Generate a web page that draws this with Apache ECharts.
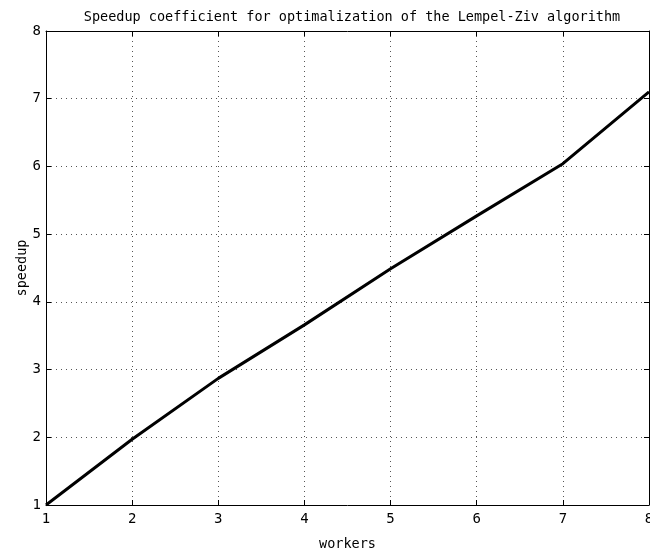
<!DOCTYPE html>
<html><head><meta charset="utf-8">
<script src="https://cdn.jsdelivr.net/npm/echarts@6/dist/echarts.min.js"></script>
<style>html,body{margin:0;padding:0;background:#fff}#c{width:650px;height:554px}</style>
</head><body><div id="c"></div>
<script>
const workers = [1, 2, 3, 4, 5, 6, 7, 8];
const speedup = [1.0, 1.97, 2.87, 3.66, 4.49, 5.27, 6.04, 7.1];
const titleText = 'Speedup coefficient for optimalization of the Lempel-Ziv algorithm';
const xName = 'workers';
const yName = 'speedup';

const font = 'DejaVu Sans Mono';
const chart = echarts.init(document.getElementById('c'));
const axisLine = {show: true, lineStyle: {color: '#000', width: 1}};
const grid = {show: true, lineStyle: {color: '#555', type: [1, 4], width: 1}};
const tick = {show: true, inside: true, length: 5, lineStyle: {color: '#000'}};
chart.setOption({
  animation: false,
  title: {text: titleText, left: 347, top: 5, textAlign: 'center',
    textStyle: {fontFamily: font, fontSize: 13.5, fontWeight: 'normal', color: '#000'}},
  grid: {left: 46, right: 1, top: 31, bottom: 49, containLabel: false, outerBoundsMode: 'none'},
  xAxis: [{
    type: 'value', min: 1, max: 8, interval: 1, position: 'bottom',
    name: xName, nameLocation: 'middle', nameGap: 32, nameMoveOverlap: false,
    nameTextStyle: {fontFamily: font, fontSize: 13.5, color: '#000'},
    axisLine, axisTick: tick, splitLine: grid,
    axisLabel: {fontFamily: font, fontSize: 14, color: '#000', margin: 7, showMaxLabel: true}
  }, {
    type: 'value', min: 1, max: 8, interval: 1, position: 'top',
    axisLine, axisTick: tick, splitLine: {show: false}, axisLabel: {show: false}
  }],
  yAxis: [{
    type: 'value', min: 1, max: 8, interval: 1, position: 'left',
    name: yName, nameLocation: 'middle', nameGap: 17, nameRotate: 90, nameMoveOverlap: false,
    nameTextStyle: {fontFamily: font, fontSize: 13.5, color: '#000'},
    axisLine, axisTick: tick, splitLine: grid,
    axisLabel: {fontFamily: font, fontSize: 14, color: '#000', margin: 5}
  }, {
    type: 'value', min: 1, max: 8, interval: 1, position: 'right',
    axisLine, axisTick: tick, splitLine: {show: false}, axisLabel: {show: false}
  }],
  series: [{
    type: 'line', data: workers.map((w, i) => [w, speedup[i]]),
    showSymbol: false, lineStyle: {color: '#000', width: 3}, clip: false
  }]
});
</script></body></html>
